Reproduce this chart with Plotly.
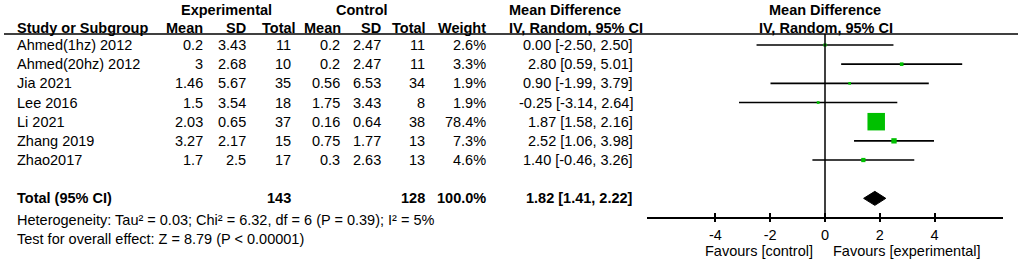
import plotly.graph_objects as go

# ---------------- data ----------------
studies = ["Ahmed(1hz) 2012", "Ahmed(20hz) 2012", "Jia 2021", "Lee 2016",
           "Li 2021", "Zhang 2019", "Zhao2017"]
exp_mean = [0.2, 3, 1.46, 1.5, 2.03, 3.27, 1.7]
exp_sd = [3.43, 2.68, 5.67, 3.54, 0.65, 2.17, 2.5]
exp_n = [11, 10, 35, 18, 37, 15, 17]
ctl_mean = [0.2, 0.2, 0.56, 1.75, 0.16, 0.75, 0.3]
ctl_sd = [2.47, 2.47, 6.53, 3.43, 0.64, 1.77, 2.63]
ctl_n = [11, 11, 34, 8, 38, 13, 13]
weight = [2.6, 3.3, 1.9, 1.9, 78.4, 7.3, 4.6]
md = [0.00, 2.80, 0.90, -0.25, 1.87, 2.52, 1.40]
ci_lo = [-2.50, 0.59, -1.99, -3.14, 1.58, 1.06, -0.46]
ci_hi = [2.50, 5.01, 3.79, 2.64, 2.16, 3.98, 3.26]

total_exp_n = 143
total_ctl_n = 128
total_weight = 100.0
total_md = 1.82
total_lo = 1.41
total_hi = 2.22

heterogeneity = "Heterogeneity: Tau² = 0.03; Chi² = 6.32, df = 6 (P = 0.39); I² = 5%"
overall = "Test for overall effect: Z = 8.79 (P < 0.00001)"
tick_vals = [-4, -2, 0, 2, 4]
tick_text = ["-4", "-2", "0", "2", "4"]
favours_left = "Favours [control]"
favours_right = "Favours [experimental]"

# ---------------- layout helpers ----------------
W, H = 1021, 262
ROW0, STEP = 45.0, 19.17          # pixel y of first study row, row spacing


def yi(py):                        # pixel y -> row coordinate
    return (py - ROW0) / STEP


def px(x):                         # pixel x -> paper x
    return x / W


FONT = "Liberation Sans, Arial, sans-serif"
FS = 14.5
TXT = "#000000"
rows = list(range(len(studies)))
total_row = len(studies) + 1

fig = go.Figure()

# confidence-interval lines
line_x, line_y = [], []
for i in rows:
    line_x += [ci_lo[i], ci_hi[i], None]
    line_y += [i, i, None]
fig.add_trace(go.Scatter(x=line_x, y=line_y, mode="lines",
                         line=dict(color="#000000", width=1.6),
                         hoverinfo="skip", showlegend=False))

# weight squares (area proportional to weight)
sizes = [17.5 * (w / max(weight)) ** 0.5 for w in weight]
fig.add_trace(go.Scatter(
    x=md, y=rows, mode="markers",
    marker=dict(symbol="square", size=sizes, color="#00C000", opacity=1,
                line=dict(width=0)),
    hoverinfo="skip", showlegend=False))

# pooled diamond
dh = 7 / STEP
fig.add_trace(go.Scatter(
    x=[total_lo, total_md, total_hi, total_md, total_lo],
    y=[total_row, total_row - dh, total_row, total_row + dh, total_row],
    mode="lines", fill="toself", fillcolor="#000000",
    line=dict(color="#000000", width=1), hoverinfo="skip", showlegend=False))

# invisible trace for the inner-tick overlay axis
fig.add_trace(go.Scatter(x=[0], y=[0], xaxis="x2", mode="markers",
                         marker=dict(opacity=0), hoverinfo="skip", showlegend=False))

ann = []


def add(text, x, y, anchor="right", bold=False):
    ann.append(dict(text=f"<b>{text}</b>" if bold else text, x=px(x), xref="paper",
                    y=y, yref="y", xanchor=anchor, yanchor="middle", showarrow=False,
                    font=dict(family=FONT, size=FS, color=TXT)))


# group headers
add("Experimental", 226, yi(10), "center", True)
add("Control", 362, yi(10), "center", True)
add("Mean Difference", 507, yi(10), "left", True)
add("Mean Difference", 825, yi(10), "center", True)
# column headers
hy = yi(28)
add("Study or Subgroup", 15, hy, "left", True)
add("Mean", 205, hy, "right", True)
add("SD", 248, hy, "right", True)
add("Total", 298, hy, "right", True)
add("Mean", 343, hy, "right", True)
add("SD", 383, hy, "right", True)
add("Total", 428, hy, "right", True)
add("Weight", 488, hy, "right", True)
add("IV, Random, 95% CI", 507, hy, "left", True)
add("IV, Random, 95% CI", 826, hy, "center", True)

for i in rows:
    add(studies[i], 15, i, "left")
    add(f"{exp_mean[i]:g}", 205, i)
    add(f"{exp_sd[i]:g}", 248, i)
    add(f"{exp_n[i]}", 293, i)
    add(f"{ctl_mean[i]:g}", 342, i)
    add(f"{ctl_sd[i]:g}", 383, i)
    add(f"{ctl_n[i]}", 427, i)
    add(f"{weight[i]:.1f}%", 488, i)
    add(f"{md[i]:.2f} [{ci_lo[i]:.2f}, {ci_hi[i]:.2f}]", 635, i)

add("Total (95% CI)", 15, total_row, "left", True)
add(f"{total_exp_n}", 293, total_row, "right", True)
add(f"{total_ctl_n}", 427, total_row, "right", True)
add(f"{total_weight:.1f}%", 488, total_row, "right", True)
add(f"{total_md:.2f} [{total_lo:.2f}, {total_hi:.2f}]", 635, total_row, "right", True)
add(heterogeneity, 15, yi(219.5), "left")
add(overall, 15, yi(239), "left")
add(favours_left, 815, yi(251), "right")
add(favours_right, 831, yi(251), "left")

AX_Y = 217.5
shapes = [
    dict(type="line", xref="paper", yref="y", x0=px(4), x1=px(1018),
         y0=yi(34), y1=yi(34), line=dict(color="#000000", width=1.5)),
    dict(type="line", xref="x", yref="y", x0=0, x1=0, y0=yi(34), y1=yi(AX_Y),
         line=dict(color="#000000", width=1.5)),
]

axis_common = dict(range=[-6.5, 6.5], domain=[px(647), px(1003)], anchor="free",
                   position=(H - AX_Y) / H, showgrid=False, zeroline=False,
                   tickvals=tick_vals, ticklen=4, tickwidth=1.5, tickcolor="#000000",
                   showline=True, linecolor="#000000", linewidth=1.5, fixedrange=True,
                   automargin=False)

fig.update_layout(
    width=W, height=H, margin=dict(l=0, r=0, t=0, b=0, autoexpand=False),
    paper_bgcolor="white", plot_bgcolor="rgba(0,0,0,0)",
    xaxis=dict(**axis_common, ticks="outside", ticktext=tick_text,
               tickfont=dict(family=FONT, size=FS, color=TXT)),
    xaxis2=dict(**axis_common, ticks="inside", overlaying="x", showticklabels=False),
    yaxis=dict(range=[yi(H), yi(0)], domain=[0, 1], visible=False, fixedrange=True),
    annotations=ann, shapes=shapes,
)

fig.write_html("out.html", config={"displayModeBar": False},
               post_script="document.body.style.margin='0px';"
                           "document.body.style.overflow='hidden';")
